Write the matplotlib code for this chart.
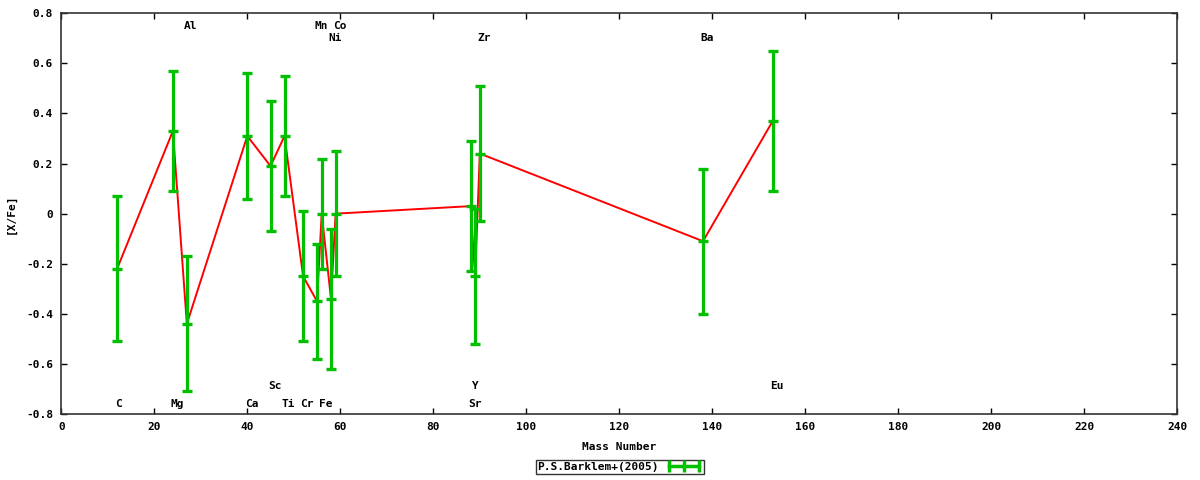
import matplotlib
matplotlib.use("Agg")
import matplotlib.pyplot as plt
from matplotlib.lines import Line2D
from matplotlib.ticker import FuncFormatter, MultipleLocator

# ---- data ----
elements = ["C", "Mg", "Al", "Ca", "Sc", "Ti", "Cr", "Mn", "Fe", "Ni", "Co",
            "Sr", "Y", "Zr", "Ba", "Eu"]
mass = [12, 24, 27, 40, 45, 48, 52, 55, 56, 58, 59, 88, 89, 90, 138, 153]
xfe = [-0.22, 0.33, -0.44, 0.31, 0.19, 0.31, -0.25, -0.35, 0.00, -0.34, 0.00,
       0.03, -0.25, 0.24, -0.11, 0.37]
err = [0.29, 0.24, 0.27, 0.25, 0.26, 0.24, 0.26, 0.23, 0.22, 0.28, 0.25,
       0.26, 0.27, 0.27, 0.29, 0.28]
# label level (data y) for each element name
label_y = [-0.76, -0.76, 0.75, -0.76, -0.69, -0.76, -0.76, 0.75, -0.76, 0.70, 0.75,
           -0.76, -0.69, 0.70, 0.70, -0.69]
series_name = "P.S.Barklem+(2005)"

GREEN = "#00c000"
RED = "#ff0000"
FONT = dict(family="DejaVu Sans Mono", fontsize=8, fontweight="bold")

fig = plt.figure(figsize=(12, 4.8), dpi=100)
ax = fig.add_axes([61.3 / 1200, 1 - 414 / 480, (1177.3 - 61.3) / 1200, (414 - 13.3) / 480])

ax.plot(mass, xfe, color=RED, lw=1.4, zorder=2)
ax.errorbar(mass, xfe, yerr=err, fmt="_", color=GREEN, ecolor=GREEN,
            elinewidth=2.3, capsize=3.3, capthick=2.4, markersize=7, mew=2.4,
            zorder=3)

for el, m, ly in zip(elements, mass, label_y):
    dx = 0 if el == "Y" else 3
    if el == "C":
        dx = 1
    ax.annotate(el, xy=(m, ly), xytext=(dx, 0), textcoords="offset points",
                ha="center", va="center", **FONT)

ax.set_xlim(0, 240)
ax.set_ylim(-0.8, 0.8)
ax.xaxis.set_major_locator(MultipleLocator(20))
ax.yaxis.set_major_locator(MultipleLocator(0.2))
ax.yaxis.set_major_formatter(FuncFormatter(lambda v, p: "%g" % round(v, 2)))
ax.tick_params(direction="in", length=4, width=1, top=True, right=True, pad=6)
for lab in ax.get_xticklabels() + ax.get_yticklabels():
    lab.set_fontfamily("DejaVu Sans Mono")
    lab.set_fontsize(8)
    lab.set_fontweight("bold")
for sp in ax.spines.values():
    sp.set_linewidth(1.2)
    sp.set_color("#333333")

ax.set_xlabel("Mass Number", labelpad=7, **FONT)
ax.set_ylabel("[X/Fe]", labelpad=7, **FONT)

handle = Line2D([], [], color=GREEN, lw=2.5, marker="|", markersize=8, mew=2.5)
leg = fig.legend([handle], [series_name], loc="center",
                 bbox_to_anchor=(620 / 1200, 1 - 467 / 480), markerfirst=False,
                 numpoints=3, handlelength=3.3, handletextpad=0.6,
                 borderpad=0.15, borderaxespad=0, fancybox=False, frameon=True,
                 prop=dict(family="DejaVu Sans Mono", size=8, weight="bold"))
leg.get_frame().set_edgecolor("black")
leg.get_frame().set_linewidth(1.0)

fig.savefig("out.png", dpi=100)
